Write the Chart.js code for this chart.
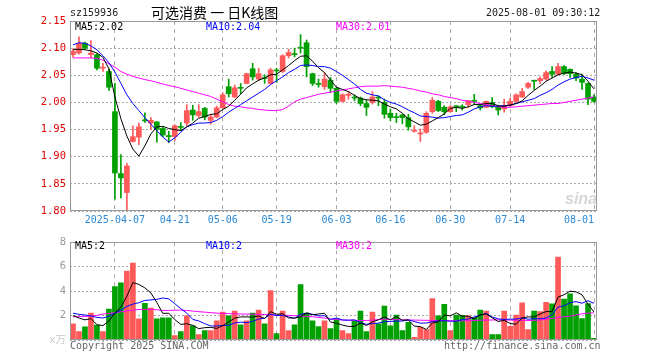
<!DOCTYPE html>
<html>
<head>
<meta charset="utf-8">
<script src="https://cdn.jsdelivr.net/npm/chart.js@4.4.1/dist/chart.umd.min.js"></script>
<style>
  body { margin: 0; background: #fff; }
  #wrap { position: relative; width: 660px; height: 360px; overflow: hidden; background: #fff; }
  canvas { position: absolute; left: 0; }
  .t { position: absolute; font-family: "DejaVu Sans Mono", monospace; font-size: 10px; line-height: 12px; white-space: pre; }
</style>
</head>
<body>
<div id="wrap">
  <canvas id="kline" width="660" height="232" style="top:0"></canvas>
  <canvas id="vol" width="660" height="128" style="top:232px"></canvas>

  <div class="t" style="left:70px;top:7px;color:#222">sz159936</div>
  <div class="t" style="left:151px;top:4px;font-family:'Noto Sans CJK SC';font-size:14px;line-height:17px;color:#000">可选消费 一 日K线图</div>
  <div class="t" style="left:486px;top:7px;color:#222">2025-08-01 09:30:12</div>

  <div class="t" style="left:75px;top:21px;color:#000">MA5:2.02</div>
  <div class="t" style="left:206px;top:21px;color:#0000ff">MA10:2.04</div>
  <div class="t" style="left:336px;top:21px;color:#ff00ff">MA30:2.01</div>

  <div class="t" style="left:565px;top:190px;font-family:'Liberation Sans';font-size:16px;line-height:18px;font-weight:bold;font-style:italic;color:#d6d6d6">sina</div>

  <div class="t" style="left:75px;top:240px;color:#000">MA5:2</div>
  <div class="t" style="left:206px;top:240px;color:#0000ff">MA10:2</div>
  <div class="t" style="left:336px;top:240px;color:#ff00ff">MA30:2</div>

  <div class="t" style="left:70px;top:340px;color:#666">Copyright 2025 SINA.COM</div>
  <div class="t" style="left:444px;top:340px;color:#666">http://finance.sina.com.cn</div>
</div>

<script>
// ==========================================
// 1. DATA
// ==========================================
const dates = [
  '03-26','03-27','03-28','03-31',
  '04-01','04-02','04-03','04-07','04-08','04-09','04-10','04-11','04-14','04-15','04-16','04-17','04-18',
  '04-21','04-22','04-23','04-24','04-25','04-28','04-29','04-30',
  '05-06','05-07','05-08','05-09','05-12','05-13','05-14','05-15','05-16','05-19','05-20','05-21','05-22','05-23',
  '05-26','05-27','05-28','05-29','05-30',
  '06-03','06-04','06-05','06-06','06-09','06-10','06-11','06-12','06-13','06-16','06-17','06-18','06-19','06-20',
  '06-23','06-24','06-25','06-26','06-27','06-30',
  '07-01','07-02','07-03','07-04','07-07','07-08','07-09','07-10','07-11','07-14','07-15','07-16','07-17','07-18',
  '07-21','07-22','07-23','07-24','07-25','07-28','07-29','07-30','07-31',
  '08-01'
];

// dates that get a dashed gridline + label, and the text shown
const tickDays = ['04-07','04-21','05-06','05-19','06-03','06-16','06-30','07-14','08-01'];
const tickText = ['2025-04-07','04-21','05-06','05-19','06-03','06-16','06-30','07-14','08-01     '];

const opens = [
  2.088,2.091,2.109,2.088,2.088,2.063,2.057,1.983,1.869,1.834,
  1.928,1.936,1.968,1.962,1.964,1.952,1.939,1.937,1.955,1.962,
  1.986,1.976,1.989,1.967,1.973,1.990,2.029,2.010,2.027,2.035,
  2.062,2.043,2.045,2.035,2.059,2.057,2.086,2.089,2.101,2.110,
  2.053,2.035,2.029,2.041,2.026,2.002,2.013,2.009,2.008,1.998,
  2.000,2.010,2.000,1.980,1.973,1.977,1.972,1.947,1.942,1.945,
  1.983,2.002,1.991,1.983,1.993,1.993,1.996,2.004,1.994,1.991,
  2.000,1.992,1.988,1.994,2.002,2.010,2.028,2.040,2.040,2.043,
  2.057,2.052,2.066,2.061,2.052,2.043,2.035,2.010
];
const highs = [
  2.099,2.121,2.111,2.114,2.090,2.072,2.062,2.035,1.904,1.888,
  1.957,1.962,1.981,1.972,1.965,1.955,1.947,1.959,1.963,1.996,
  1.995,1.996,1.991,1.978,1.993,2.018,2.043,2.032,2.035,2.054,
  2.072,2.063,2.051,2.063,2.063,2.088,2.098,2.100,2.125,2.115,
  2.054,2.043,2.055,2.046,2.028,2.016,2.020,2.014,2.010,2.004,
  2.020,2.012,2.006,1.988,1.980,1.978,1.978,1.957,1.951,1.983,
  2.009,2.004,1.994,1.994,1.994,1.996,2.004,2.015,1.996,2.003,
  2.009,1.994,2.006,2.008,2.016,2.026,2.037,2.041,2.047,2.058,
  2.066,2.072,2.068,2.062,2.055,2.052,2.036,2.014
];
const lows = [
  2.083,2.089,2.098,2.082,2.060,2.057,2.022,1.822,1.824,1.800,
  1.927,1.922,1.963,1.950,1.927,1.937,1.926,1.930,1.948,1.957,
  1.967,1.973,1.968,1.960,1.972,1.989,2.010,2.009,2.016,2.034,
  2.041,2.040,2.035,2.034,2.037,2.055,2.082,2.084,2.091,2.047,
  2.031,2.028,2.024,2.018,1.998,2.001,2.006,2.003,1.994,1.976,
  1.997,1.994,1.971,1.966,1.963,1.961,1.949,1.945,1.928,1.943,
  1.980,1.983,1.977,1.982,1.983,1.986,1.991,1.996,1.986,1.990,
  1.990,1.977,1.982,1.992,2.000,2.009,2.026,2.024,2.035,2.041,
  2.046,2.051,2.051,2.046,2.040,2.024,1.996,2.000
];
const closes = [
  2.094,2.109,2.100,2.091,2.063,2.065,2.028,1.870,1.861,1.883,
  1.937,1.955,1.966,1.967,1.951,1.940,1.937,1.957,1.954,1.985,
  1.977,1.983,1.973,1.973,1.990,2.014,2.016,2.027,2.026,2.053,
  2.047,2.053,2.044,2.060,2.058,2.086,2.092,2.088,2.100,2.066,
  2.035,2.033,2.043,2.026,2.002,2.014,2.015,2.008,1.998,1.991,
  2.010,2.008,1.978,1.972,1.972,1.972,1.955,1.949,1.943,1.980,
  2.004,1.985,1.983,1.992,1.992,1.991,2.003,2.002,1.990,2.002,
  1.992,1.986,1.994,2.002,2.014,2.020,2.035,2.039,2.044,2.055,
  2.052,2.066,2.053,2.053,2.045,2.037,2.006,2.002
];

const ma5 = [
  2.097,2.098,2.097,2.095,2.091,2.083,2.062,2.010,1.970,1.938,
  1.914,1.901,1.920,1.942,1.955,1.956,1.952,1.950,1.948,1.955,
  1.962,1.971,1.974,1.978,1.979,1.987,1.993,2.004,2.015,2.027,
  2.034,2.041,2.045,2.051,2.052,2.060,2.068,2.077,2.085,2.086,
  2.076,2.064,2.055,2.041,2.028,2.024,2.020,2.013,2.007,2.005,
  2.004,2.003,1.997,1.992,1.988,1.980,1.970,1.964,1.958,1.960,
  1.966,1.972,1.979,1.989,1.991,1.989,1.992,1.996,1.996,1.998,
  1.998,1.994,1.993,1.995,1.998,2.003,2.013,2.022,2.030,2.039,
  2.045,2.051,2.054,2.056,2.054,2.051,2.039,2.025
];
const ma10 = [
  2.106,2.110,2.109,2.104,2.097,2.086,2.073,2.056,2.035,2.014,
  1.998,1.985,1.972,1.960,1.948,1.936,1.927,1.935,1.945,1.955,
  1.959,1.962,1.962,1.963,1.967,1.974,1.982,1.989,1.996,2.003,
  2.010,2.017,2.024,2.033,2.040,2.047,2.055,2.061,2.068,2.069,
  2.068,2.066,2.066,2.063,2.057,2.050,2.042,2.034,2.024,2.017,
  2.014,2.012,2.005,2.000,1.997,1.992,1.986,1.981,1.975,1.974,
  1.973,1.971,1.972,1.974,1.976,1.977,1.982,1.988,1.992,1.994,
  1.993,1.993,1.994,1.995,1.998,2.001,2.004,2.007,2.013,2.018,
  2.024,2.032,2.038,2.043,2.046,2.048,2.045,2.041
];
const ma30 = [
  2.082,2.082,2.082,2.082,2.081,2.078,2.071,2.065,2.057,2.052,
  2.048,2.045,2.042,2.040,2.037,2.034,2.031,2.029,2.026,2.023,
  2.020,2.017,2.014,2.011,2.006,2.001,1.996,1.993,1.992,1.990,
  1.989,1.987,1.986,1.985,1.985,1.987,1.993,2.001,2.006,2.009,
  2.012,2.015,2.017,2.019,2.021,2.023,2.025,2.027,2.029,2.030,
  2.030,2.030,2.031,2.030,2.029,2.028,2.026,2.024,2.021,2.019,
  2.016,2.014,2.011,2.009,2.007,2.004,2.002,2.000,1.998,1.996,
  1.994,1.992,1.991,1.991,1.992,1.993,1.994,1.995,1.996,1.997,
  1.998,1.998,2.000,2.002,2.004,2.006,2.008,2.010
];

// volume, in 万
const volumes = [
  1.33,0.69,1.07,2.21,1.23,0.69,2.53,4.37,4.69,5.65,
  6.29,1.73,3.01,2.61,1.73,1.81,1.81,0.37,0.69,1.97,
  1.17,0.45,0.77,0.77,1.57,2.29,1.97,2.37,1.25,1.57,
  2.21,2.45,1.33,4.05,0.53,2.37,0.77,1.25,4.53,2.21,
  1.57,1.09,1.57,0.93,1.73,0.77,0.53,1.57,2.37,0.69,
  2.29,1.33,2.77,1.17,2.05,0.77,1.44,0.21,1.04,0.85,
  3.39,1.97,2.93,0.77,2.05,2.03,1.97,1.84,2.45,2.37,
  0.45,0.45,2.37,1.12,2.05,3.04,0.85,2.37,2.32,3.09,
  2.96,6.80,3.36,3.79,2.80,1.76,2.99,0.13
];
const vma5 = [
  2.00,1.80,1.65,1.75,1.25,1.18,1.55,2.21,2.70,3.59,
  4.71,4.55,4.27,3.86,3.07,2.18,2.19,1.67,1.28,1.33,
  1.20,0.93,1.01,1.03,0.95,1.17,1.47,1.79,1.89,1.89,
  1.87,1.97,1.76,2.32,2.11,2.15,1.81,1.79,1.89,2.23,
  2.07,2.13,2.19,1.47,1.38,1.22,1.11,1.11,1.39,1.19,
  1.49,1.65,1.89,1.65,1.92,1.62,1.64,1.13,1.10,0.86,
  1.39,1.49,2.04,1.98,2.22,1.95,1.95,1.73,2.07,2.13,
  1.82,1.51,1.62,1.35,1.29,1.81,1.89,1.89,2.13,2.33,
  2.32,3.51,3.71,4.00,3.94,3.70,2.94,2.29
];
const vma10 = [
  2.20,2.10,2.05,1.97,1.85,1.80,1.95,2.20,2.45,2.75,
  2.94,3.05,3.24,3.28,3.33,3.44,3.37,2.97,2.57,2.20,
  1.69,1.56,1.34,1.15,1.14,1.19,1.20,1.40,1.46,1.42,
  1.52,1.72,1.78,2.11,2.00,2.01,1.89,1.78,2.11,2.17,
  2.11,1.97,1.99,1.68,1.80,1.64,1.62,1.65,1.43,1.28,
  1.35,1.38,1.50,1.52,1.55,1.55,1.65,1.51,1.38,1.39,
  1.50,1.57,1.58,1.54,1.54,1.67,1.72,1.88,2.03,2.18,
  1.88,1.73,1.68,1.71,1.71,1.81,1.70,1.75,1.74,1.81,
  2.06,2.70,2.80,3.06,3.14,3.01,3.22,3.00
];
const vma30 = [
  1.90,1.92,1.93,1.96,2.02,2.12,2.18,2.24,2.30,2.38,
  2.44,2.50,2.51,2.51,2.48,2.42,2.42,2.44,2.45,2.42,
  2.37,2.32,2.28,2.24,2.20,2.18,2.16,2.14,2.13,2.12,
  2.11,2.10,2.09,2.07,2.05,2.03,2.01,1.99,1.96,1.93,
  1.90,1.85,1.79,1.72,1.68,1.64,1.62,1.61,1.60,1.60,
  1.62,1.68,1.70,1.68,1.66,1.65,1.64,1.63,1.62,1.61,
  1.60,1.60,1.59,1.58,1.57,1.57,1.58,1.60,1.62,1.63,
  1.64,1.65,1.64,1.63,1.62,1.61,1.60,1.61,1.64,1.70,
  1.77,1.84,1.90,1.95,2.05,2.15,2.20,2.22
];

// ==========================================
// 2. STYLE HELPERS
// ==========================================
const RED = '#ff5a5a';
const GREEN = '#00a000';
const MONO = "'DejaVu Sans Mono', monospace";
const candleColor = closes.map((c, i) => c > opens[i] ? RED : GREEN);

// grey box round each plot area
const frame = {
  id: 'frame',
  afterDraw(chart) {
    const { left, top, right, bottom } = chart.chartArea;
    const ctx = chart.ctx;
    ctx.save();
    ctx.strokeStyle = '#999';
    ctx.lineWidth = 1;
    ctx.strokeRect(Math.round(left) + 0.5, Math.round(top) + 0.5,
                   Math.round(right - left) - 1, Math.round(bottom - top) - 1);
    ctx.restore();
  }
};

function xAxis(showLabels, height) {
  return {
    offset: true,
    grid: {
      offset: false,
      drawTicks: false,
      color: ctx => tickDays.includes(dates[ctx.index]) ? '#aaa' : 'rgba(0,0,0,0)'
    },
    border: { display: false, dash: [4, 4] },
    ticks: {
      display: showLabels,
      autoSkip: false,
      maxRotation: 0,
      padding: 3,
      color: '#2a8ad8',
      font: { family: MONO, size: 10 },
      callback: (v, i) => {
        const k = tickDays.indexOf(dates[i]);
        return k >= 0 ? tickText[k] : '';
      }
    },
    afterFit: s => { s.height = height; }
  };
}

function maLine(label, data, color) {
  return { type: 'line', label, data, borderColor: color, borderWidth: 1,
           pointRadius: 0, tension: 0, fill: false, order: 0 };
}

// ==========================================
// 3. CANDLESTICK PANEL
// ==========================================
new Chart(document.getElementById('kline'), {
  type: 'bar',
  data: {
    labels: dates,
    datasets: [
      maLine('MA5', ma5, '#000000'),
      maLine('MA10', ma10, '#0000ff'),
      maLine('MA30', ma30, '#ff00ff'),
      { label: 'body', data: opens.map((o, i) => [o, closes[i]]), backgroundColor: candleColor,
        barThickness: 5, grouped: false, minBarLength: 1, order: 1 },
      { label: 'wick', data: lows.map((l, i) => [l, highs[i]]), backgroundColor: candleColor,
        barThickness: 1, grouped: false, order: 2 }
    ]
  },
  options: {
    responsive: false, animation: false, devicePixelRatio: 1,
    layout: { padding: { top: 21, right: 63, left: 0, bottom: 0 } },
    plugins: { legend: { display: false }, tooltip: { enabled: false } },
    scales: {
      x: xAxis(true, 21),
      y: {
        min: 1.8, max: 2.15,
        ticks: { stepSize: 0.05, callback: v => v.toFixed(2), color: '#e00000',
                 padding: 4, font: { family: MONO, size: 10.5 } },
        grid: { color: '#aaa', drawTicks: false },
        border: { display: false, dash: [2, 2] },
        afterFit: s => { s.width = 70; }
      }
    }
  },
  plugins: [frame]
});

// ==========================================
// 4. VOLUME PANEL
// ==========================================
new Chart(document.getElementById('vol'), {
  type: 'bar',
  data: {
    labels: dates,
    datasets: [
      maLine('MA5', vma5, '#000000'),
      maLine('MA10', vma10, '#0000ff'),
      maLine('MA30', vma30, '#ff00ff'),
      { label: 'vol', data: volumes, backgroundColor: candleColor, barThickness: 5, order: 1 }
    ]
  },
  options: {
    responsive: false, animation: false, devicePixelRatio: 1,
    layout: { padding: { top: 8, right: 63, left: 0, bottom: 0 } },
    plugins: { legend: { display: false }, tooltip: { enabled: false } },
    scales: {
      x: xAxis(false, 20),
      y: {
        min: 0, max: 8,
        ticks: { stepSize: 2, callback: v => v === 0 ? 'x万' : v,
                 color: ctx => ctx.tick && ctx.tick.value === 0 ? '#c8c8c8' : '#999',
                 padding: 4, font: { family: "'DejaVu Sans Mono', 'Noto Sans CJK SC', monospace", size: 10.5 } },
        grid: { color: '#aaa', drawTicks: false },
        border: { display: false, dash: [2, 2] },
        afterFit: s => { s.width = 70; }
      }
    }
  },
  plugins: [frame]
});
</script>
</body>
</html>
